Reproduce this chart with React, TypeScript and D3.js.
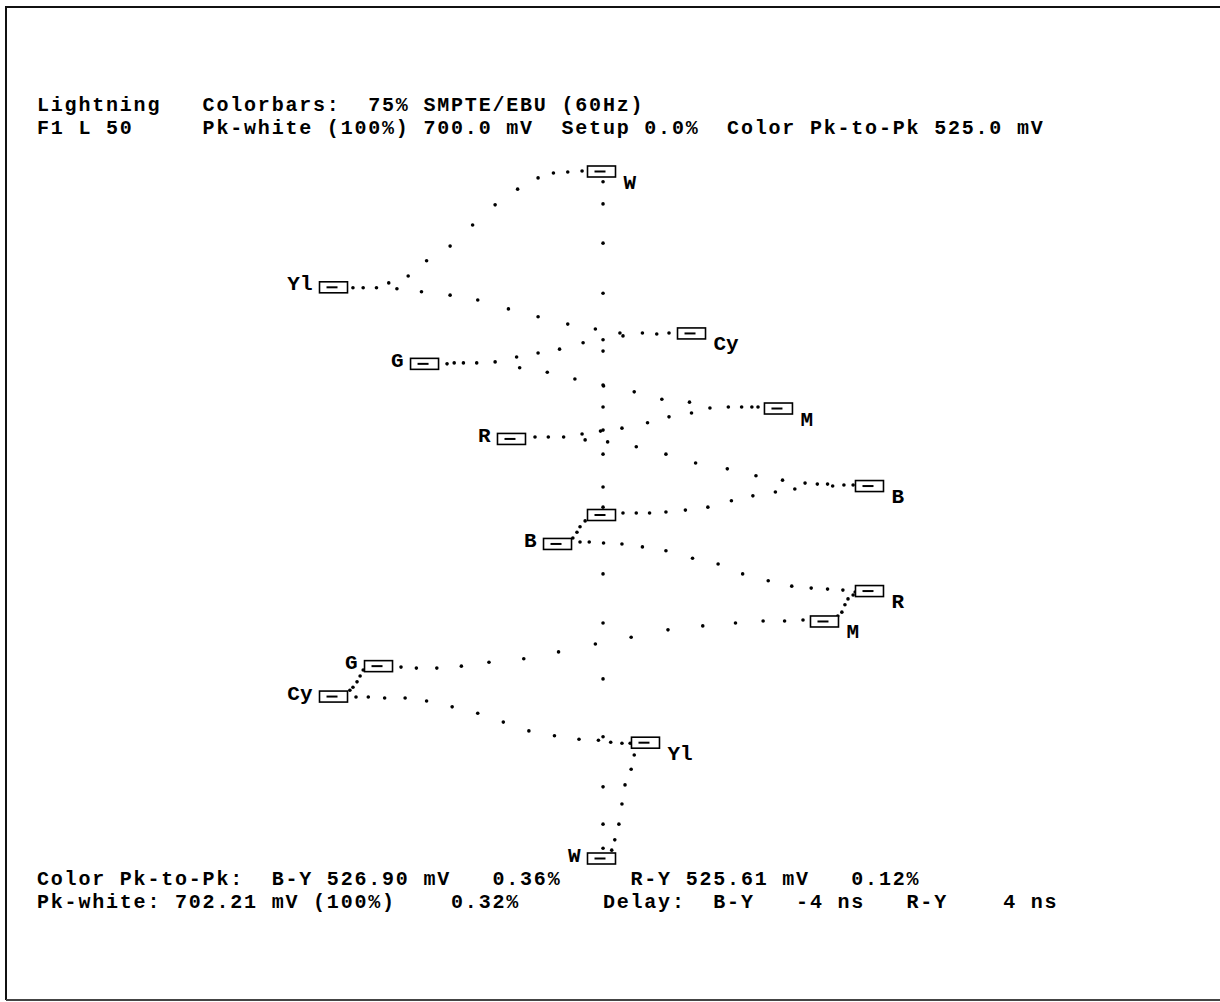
import * as d3 from 'd3';

// colour bar targets: W, Yl, Cy, G, M, R, B, black
const barNames = ['W', 'Yl', 'Cy', 'G', 'M', 'R', 'B', ''];
const lumaMv = [700, 464, 370, 308, 217, 155, 59, 0];
const pbMv = [0, -262, 88, -173, 173, -88, 262, 0];
const prMv = [0, 43, -262, -218, 218, 262, -43, 0];
const upperSide = ['r', 'l', 'r', 'l', 'r', 'l', 'r', ''];
const lowerSide = ['l', 'r', 'l', 'l', 'r', 'r', 'l', ''];

// samples of the blanking -> white rise (zero chroma)
const riseChroma = 1.5;
const upperRise = [16, 57, 124, 173, 220, 265, 334, 357, 452, 554, 634, 679];
const lowerRise = [120, 220, 334, 452, 554, 630, 679];

// [Pb mV, Y mV] samples between bars
const upperTrace = [
  [-19, 701], [-33, 699], [-47, 697], [-62, 687], [-82, 664], [-104, 632], [-126, 591], [-148, 548],
  [-171, 518], [-189, 487], [-208, 473], [-220, 463], [-233, 463], [-243, 463],
  [-200, 461], [-176, 455], [-148, 448], [-121, 438], [-91, 420], [-62, 404], [-33, 389], [-6, 379],
  [18, 371], [21, 365], [40, 371], [54, 369], [66, 371],
  [-18, 351], [-41, 338], [-62, 330], [-83, 322], [-104, 312], [-122, 310], [-135, 310], [-144, 310], [-151, 308],
  [-80, 300], [-53, 291], [-26, 277], [2, 263], [32, 251], [59, 236], [86, 230], [106, 218], [124, 220],
  [137, 220], [147, 220], [153, 220],
  [88, 208], [66, 200], [45, 188], [20, 177], [-1, 171], [-19, 165], [-37, 159], [-52, 159], [-65, 159],
  [-16, 153], [6, 149], [34, 139], [63, 124], [92, 106], [123, 94], [151, 80], [177, 71], [199, 65],
  [211, 63], [221, 63], [226, 59], [237, 61], [246, 61],
  [189, 53], [170, 47], [148, 39], [127, 29], [104, 16], [82, 10], [63, 6], [47, 4], [34, 4], [21, 4],
];

// [Pr mV, Y mV] samples between bars
const lowerTrace = [
  [-16, 12], [-21, 24], [-24, 35], [-28, 47],
  [-21, 55], [-12, 55], [2, 57], [20, 59], [40, 65], [63, 73], [89, 88], [114, 100], [138, 120],
  [163, 134], [186, 145], [205, 149], [221, 151], [236, 153], [248, 157],
  [246, 163], [241, 171], [238, 183], [235, 198], [231, 206],
  [197, 214], [179, 216], [158, 216], [131, 220], [99, 226], [65, 234], [29, 249], [-6, 263],
  [-42, 279], [-76, 293], [-110, 300], [-137, 308], [-161, 312], [-181, 312], [-196, 310],
  [-233, 316], [-236, 328], [-239, 340], [-243, 351], [-246, 357],
  [-240, 371], [-228, 371], [-212, 373], [-192, 373], [-171, 379], [-146, 391], [-121, 404], [-96, 422],
  [-71, 440], [-46, 450], [-22, 457], [-3, 459], [9, 463], [20, 465], [28, 465],
  [32, 489], [29, 518], [23, 550], [20, 589], [17, 630], [13, 662], [10, 683],
];

const header1 = 'Lightning   Colorbars:  75% SMPTE/EBU (60Hz)';
const header2 = 'F1 L 50     Pk-white (100%) 700.0 mV  Setup 0.0%  Color Pk-to-Pk 525.0 mV';
const footer1 = 'Color Pk-to-Pk:  B-Y 526.90 mV   0.36%     R-Y 525.61 mV   0.12%';
const footer2 = 'Pk-white: 702.21 mV (100%)    0.32%      Delay:  B-Y   -4 ns   R-Y    4 ns';

const FONT = '"Liberation Mono", "Courier New", monospace';
const W = 1220;
const H = 1002;

const x = d3.scaleLinear().domain([-262.5, 262.5]).range([333, 870]);
const yUp = d3.scaleLinear().domain([0, 700]).range([515, 171.5]);
const yLow = d3.scaleLinear().domain([0, 700]).range([515, 858.5]);

const BOX_W = 28;
const BOX_H = 11;

function Target({ cx, cy, name, side }) {
  const labelX = side === 'r' ? cx + BOX_W / 2 + 8 : cx - BOX_W / 2 - 7;
  const labelY = side === 'r' ? cy + 17 : cy + 3;
  return (
    <g>
      <rect x={cx - BOX_W / 2} y={cy - BOX_H / 2} width={BOX_W} height={BOX_H}
        fill="#fff" stroke="#000" strokeWidth={1.6} />
      <line x1={cx - 7} x2={cx + 4} y1={cy} y2={cy} stroke="#000" strokeWidth={2} />
      {name && (
        <text x={labelX} y={labelY} textAnchor={side === 'r' ? 'start' : 'end'}
          fontFamily={FONT} fontWeight="bold" fontSize={21}>{name}</text>
      )}
    </g>
  );
}

export default function App() {
  const textStyle = { whiteSpace: 'pre' } as any;
  return (
    <svg width={W} height={H} style={{ position: 'absolute', left: 0, top: 0, background: '#fff' }}>
      <rect width={W} height={H} fill="#fff" />
      <path d={`M6,${H - 2} V7 H${W}`} fill="none" stroke="#111" strokeWidth={2} />
      <line x1={6} x2={W} y1={H - 2} y2={H - 2} stroke="#444" strokeWidth={2} />

      <g fontFamily={FONT} fontWeight="bold" fontSize={20} letterSpacing={1.8} fill="#000">
        <text x={37} y={111} xmlSpace="preserve" style={textStyle}>{header1}</text>
        <text x={37} y={134} xmlSpace="preserve" style={textStyle}>{header2}</text>
        <text x={37} y={885} xmlSpace="preserve" style={textStyle}>{footer1}</text>
        <text x={37} y={908} xmlSpace="preserve" style={textStyle}>{footer2}</text>
      </g>

      <g fill="#000">
        {upperRise.map((v, i) => (
          <circle key={'ur' + i} cx={x(riseChroma)} cy={yUp(v)} r={1.8} />
        ))}
        {lowerRise.map((v, i) => (
          <circle key={'lr' + i} cx={x(riseChroma)} cy={yLow(v)} r={1.8} />
        ))}
        {upperTrace.map((d, i) => (
          <circle key={'ut' + i} cx={x(d[0])} cy={yUp(d[1])} r={1.8} />
        ))}
        {lowerTrace.map((d, i) => (
          <circle key={'lt' + i} cx={x(d[0])} cy={yLow(d[1])} r={1.8} />
        ))}
      </g>

      {barNames.map((n, i) => (
        <Target key={'u' + i} cx={x(pbMv[i])} cy={yUp(lumaMv[i])} name={n} side={upperSide[i]} />
      ))}
      {barNames.map((n, i) => (
        i < 7 ? <Target key={'l' + i} cx={x(prMv[i])} cy={yLow(lumaMv[i])} name={n} side={lowerSide[i]} /> : null
      ))}
    </svg>
  );
}
